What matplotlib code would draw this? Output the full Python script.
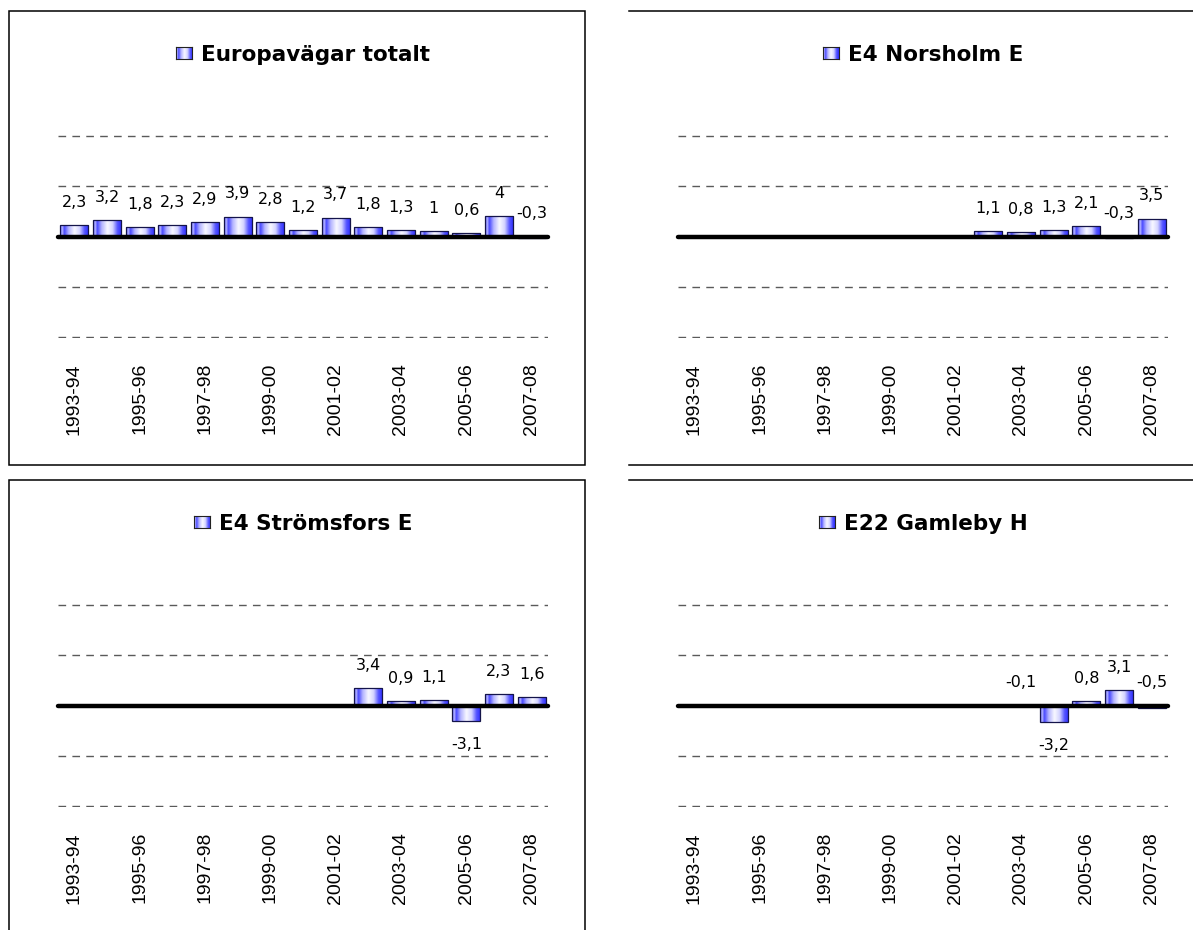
import numpy as np
import matplotlib
matplotlib.use("Agg")
import matplotlib.pyplot as plt
from matplotlib.colors import LinearSegmentedColormap
from matplotlib.patches import Rectangle
from matplotlib.lines import Line2D

nan = np.nan

# ---------------- data ----------------
categories = ["1993-94", "1994-95", "1995-96", "1996-97", "1997-98", "1998-99",
              "1999-00", "2000-01", "2001-02", "2002-03", "2003-04", "2004-05",
              "2005-06", "2006-07", "2007-08"]

europavagar = [2.3, 3.2, 1.8, 2.3, 2.9, 3.9, 2.8, 1.2, 3.7, 1.8, 1.3, 1.0, 0.6, 4.0, -0.3]
norsholm = [nan, nan, nan, nan, nan, nan, nan, nan, nan, 1.1, 0.8, 1.3, 2.1, -0.3, 3.5]
stromsfors = [nan, nan, nan, nan, nan, nan, nan, nan, nan, 3.4, 0.9, 1.1, -3.1, 2.3, 1.6]
gamleby = [nan, nan, nan, nan, nan, nan, nan, nan, nan, nan, -0.1, -3.2, 0.8, 3.1, -0.5]

titles = ["Europavägar totalt", "E4 Norsholm E", "E4 Strömsfors E", "E22 Gamleby H"]
series = [europavagar, norsholm, stromsfors, gamleby]

# ---------------- figure ----------------
W, H = 1193, 930
fig = plt.figure(figsize=(W / 100, H / 100), dpi=100)
fig.patch.set_facecolor("white")


def fx(px):
    return px / W


def fy(py):
    return 1 - py / H


grad_cmap = LinearSegmentedColormap.from_list(
    "bar",
    [(0.0, "#2a2aff"), (0.07, "#c0c0ff"), (0.15, "#4848ff"), (0.3, "#b4b4ff"),
     (0.5, "#f8f8ff"), (0.68, "#d4d4ff"), (0.85, "#5555ff"), (1.0, "#2a2aff")])
grad = np.linspace(0, 1, 256).reshape(1, -1)

offsets = [(0, 0), (620, 0), (0, 469), (620, 469)]
title_texts = []

for title, values, (dx, dy) in zip(titles, series, offsets):
    ax = fig.add_axes([fx(58 + dx), fy(338 + dy), 490 / W, 203 / H])
    for s in ax.spines.values():
        s.set_visible(False)
    ax.set_facecolor("none")

    x = np.arange(len(categories))
    vals = np.array(values, dtype=float)
    mask = ~np.isnan(vals)

    bars = ax.bar(x[mask], vals[mask], width=0.86, facecolor="none",
                  edgecolor="#14144a", linewidth=0.9, zorder=2)
    for b in bars:
        bx, by = b.get_x(), b.get_y()
        bw, bh = b.get_width(), b.get_height()
        im = ax.imshow(grad, cmap=grad_cmap, aspect="auto", interpolation="bilinear",
                       extent=(bx, bx + bw, min(by, by + bh), max(by, by + bh)),
                       zorder=1.5)
        im.set_clip_path(b)

    ax.set_xlim(-0.5, len(categories) - 0.5)
    ax.set_ylim(-20.2, 20.2)

    ax.set_yticks([-20, -10, 10, 20])
    ax.set_yticklabels([])
    ax.tick_params(axis="y", length=0)
    ax.yaxis.grid(True, color="#5a5a5a", linewidth=1.0, linestyle=(0, (5.5, 4.5)))
    ax.set_axisbelow(True)

    ax.axhline(0, color="black", linewidth=3.2, solid_capstyle="round",
               zorder=3, clip_on=False)

    for xi, v in zip(x[mask], vals[mask]):
        txt = f"{v:g}".replace(".", ",")
        if v > -1:
            ax.annotate(txt, (xi, max(v, 0)), xytext=(0, 16.5), textcoords="offset points",
                        ha="center", va="center", fontsize=11.5, family="DejaVu Sans", zorder=4)
        else:
            ax.annotate(txt, (xi, v), xytext=(0, -17), textcoords="offset points",
                        ha="center", va="center", fontsize=11.5, family="DejaVu Sans", zorder=4)

    ax.set_xticks(x[::2])
    ax.set_xticklabels(categories[::2], rotation=90, fontsize=14,
                       family="Liberation Sans")
    ax.tick_params(axis="x", length=0, pad=18)

    cx, base = 303 + dx, 61 + dy
    t = fig.text(fx(cx), fy(base), title, ha="center", va="baseline",
                 fontsize=15.5, fontweight="bold", family="DejaVu Sans")
    title_texts.append((t, cx, base))

# panel frames
fig.add_artist(Rectangle((fx(9), fy(465)), 576 / W, 454 / H, transform=fig.transFigure,
                         fill=False, edgecolor="black", linewidth=1.1))
fig.add_artist(Rectangle((fx(9), fy(934)), 576 / W, 454 / H, transform=fig.transFigure,
                         fill=False, edgecolor="black", linewidth=1.1))
for yy in (11.5, 465, 480):
    fig.add_artist(Line2D([fx(629), 1.0], [fy(yy), fy(yy)], transform=fig.transFigure,
                          color="black", linewidth=1.1))

# legend-like titles with gradient key
renderer = fig.canvas.get_renderer()
for t, cx, base in title_texts:
    w = t.get_window_extent(renderer).width
    total = 16 + 9 + w
    left = cx - total / 2
    t.set_x(fx(left + 25 + w / 2))
    mk = fig.add_axes([fx(left), fy(base - 2), 16 / W, 12 / H])
    mk.imshow(grad, cmap=grad_cmap, aspect="auto", interpolation="bilinear")
    mk.set_xticks([])
    mk.set_yticks([])
    for s in mk.spines.values():
        s.set_linewidth(0.8)
        s.set_edgecolor("#222222")

fig.savefig("out.png", dpi=100, facecolor="white")
